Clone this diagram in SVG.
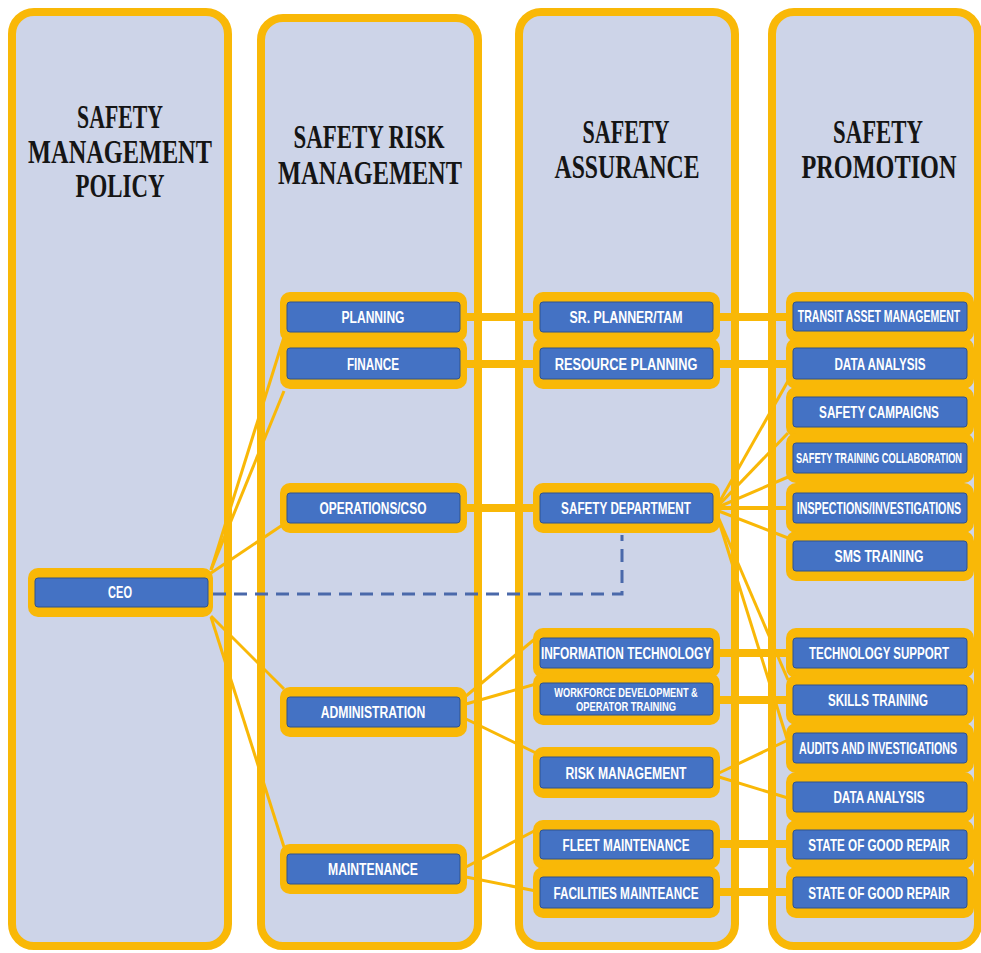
<svg xmlns="http://www.w3.org/2000/svg" width="981" height="953" viewBox="0 0 981 953">
<style>
.col{fill:#CDD4E8;stroke:#F9B807;stroke-width:8}
.hd{font-family:"Liberation Serif","Times New Roman",serif;font-weight:bold;font-size:34px;fill:#151515;text-anchor:middle}
.outer{fill:#F9B807}
.blue{fill:#4472C4;stroke:#2F528F;stroke-width:1}
.lb{font-family:"Liberation Sans",Arial,sans-serif;font-weight:bold;font-size:17px;fill:#FFFFFF;text-anchor:middle}
.s16{font-size:16px}
.s14{font-size:14px}
.s13{font-size:13px}
.thick{stroke:#F9B807;stroke-width:8;fill:none}
.thin{stroke:#F9B807;stroke-width:3;fill:none}
.mid{stroke:#F9B807;stroke-width:4;fill:none}
.dash{stroke:#4A69AA;stroke-width:3;fill:none;stroke-dasharray:13 8}
</style>
<rect width="981" height="953" fill="#FFFFFF"/>
<g id="columns">
<g id="col-policy"><rect class="col" x="12" y="12" width="216" height="934" rx="22"/>
<text class="hd" transform="translate(120,128) scale(0.64,1)">SAFETY</text>
<text class="hd" transform="translate(120,163) scale(0.716,1)">MANAGEMENT</text>
<text class="hd" transform="translate(120,197) scale(0.673,1)">POLICY</text></g>
<g id="col-risk"><rect class="col" x="261" y="18" width="217" height="928" rx="22"/>
<text class="hd" transform="translate(369,148) scale(0.673,1)">SAFETY RISK</text>
<text class="hd" transform="translate(370,184) scale(0.716,1)">MANAGEMENT</text></g>
<g id="col-assurance"><rect class="col" x="519" y="12" width="216" height="934" rx="22"/>
<text class="hd" transform="translate(626,143) scale(0.65,1)">SAFETY</text>
<text class="hd" transform="translate(627,178) scale(0.698,1)">ASSURANCE</text></g>
<g id="col-promotion"><rect class="col" x="772" y="12" width="206" height="934" rx="22"/>
<text class="hd" transform="translate(878,143) scale(0.67,1)">SAFETY</text>
<text class="hd" transform="translate(879,178) scale(0.714,1)">PROMOTION</text></g>
</g>
<g id="connectors">
<line class="thick" x1="460" y1="317" x2="545" y2="317"/>
<line class="thick" x1="460" y1="364" x2="545" y2="364"/>
<line class="thick" x1="460" y1="508" x2="545" y2="508"/>
<line class="thick" x1="710" y1="317" x2="795" y2="317"/>
<line class="thick" x1="710" y1="364" x2="795" y2="364"/>
<line class="thin" x1="211" y1="570" x2="284" y2="337"/>
<line class="thin" x1="211" y1="570" x2="284" y2="391"/>
<line class="thin" x1="211" y1="573" x2="284" y2="524"/>
<line class="thin" x1="211" y1="616" x2="284" y2="689"/>
<line class="thin" x1="211" y1="617" x2="284" y2="847"/>
<line class="thin" x1="466" y1="696" x2="536" y2="638"/>
<line class="thin" x1="466" y1="704" x2="536" y2="684"/>
<line class="thin" x1="466" y1="719" x2="536" y2="753"/>
<line class="thin" x1="466" y1="867" x2="536" y2="830"/>
<line class="thin" x1="466" y1="877" x2="536" y2="891"/>
<line class="thick" x1="710" y1="653" x2="795" y2="653"/>
<line class="thick" x1="710" y1="700" x2="795" y2="700"/>
<line class="thick" x1="710" y1="844" x2="795" y2="844"/>
<line class="thick" x1="710" y1="892" x2="795" y2="892"/>
<line class="thin" x1="719" y1="773" x2="788" y2="740"/>
<line class="thin" x1="719" y1="777" x2="788" y2="798"/>
<line class="thin" x1="716" y1="508" x2="788" y2="381"/>
<line class="thin" x1="716" y1="508" x2="788" y2="433"/>
<line class="thin" x1="716" y1="508" x2="788" y2="477"/>
<line class="mid" x1="716" y1="508" x2="790" y2="508"/>
<line class="thin" x1="716" y1="510" x2="788" y2="538"/>
<line class="thin" x1="716" y1="512" x2="788" y2="680"/>
<line class="thin" x1="716" y1="512" x2="788" y2="742"/>
<polyline class="dash" points="213,594 622,594 622,535"/>
</g>
<g id="n-planning"><rect class="outer" x="280" y="292" width="187" height="50" rx="10"/><rect class="blue" x="287" y="302" width="173" height="30" rx="3"/><text class="lb" transform="translate(373,323) scale(0.71,1)">PLANNING</text></g>
<g id="n-finance"><rect class="outer" x="280" y="338" width="187" height="51" rx="10"/><rect class="blue" x="287" y="348" width="173" height="31" rx="3"/><text class="lb" transform="translate(373,369.5) scale(0.69,1)">FINANCE</text></g>
<g id="n-operations"><rect class="outer" x="280" y="483" width="187" height="50" rx="10"/><rect class="blue" x="287" y="493" width="173" height="30" rx="3"/><text class="lb" transform="translate(373,514) scale(0.70,1)">OPERATIONS/CSO</text></g>
<g id="n-administration"><rect class="outer" x="280" y="687" width="187" height="50" rx="10"/><rect class="blue" x="287" y="697" width="173" height="30" rx="3"/><text class="lb" transform="translate(373,718) scale(0.717,1)">ADMINISTRATION</text></g>
<g id="n-maintenance"><rect class="outer" x="280" y="844" width="187" height="50" rx="10"/><rect class="blue" x="287" y="854" width="173" height="30" rx="3"/><text class="lb" transform="translate(373,875) scale(0.717,1)">MAINTENANCE</text></g>
<g id="n-ceo"><rect class="outer" x="28" y="568" width="185" height="49" rx="10"/><rect class="blue" x="35" y="578" width="173" height="29" rx="3"/><text class="lb s16" transform="translate(120,598) scale(0.69,1)">CEO</text></g>
<g id="n-srplanner"><rect class="outer" x="533" y="292" width="187" height="50" rx="10"/><rect class="blue" x="540" y="302" width="173" height="30" rx="3"/><text class="lb" transform="translate(626,323) scale(0.727,1)">SR. PLANNER/TAM</text></g>
<g id="n-resource"><rect class="outer" x="533" y="338" width="187" height="51" rx="10"/><rect class="blue" x="540" y="348" width="173" height="31" rx="3"/><text class="lb" transform="translate(626,369.5) scale(0.752,1)">RESOURCE PLANNING</text></g>
<g id="n-safetydept"><rect class="outer" x="533" y="483" width="187" height="50" rx="10"/><rect class="blue" x="540" y="493" width="173" height="30" rx="3"/><text class="lb" transform="translate(626,514) scale(0.69,1)">SAFETY DEPARTMENT</text></g>
<g id="n-it"><rect class="outer" x="533" y="628" width="187" height="50" rx="10"/><rect class="blue" x="540" y="638" width="173" height="30" rx="3"/><text class="lb" transform="translate(626,659) scale(0.70,1)">INFORMATION TECHNOLOGY</text></g>
<g id="n-workforce"><rect class="outer" x="533" y="673" width="187" height="52" rx="10"/><rect class="blue" x="540" y="683" width="173" height="32" rx="3"/><text class="lb s13" transform="translate(626,697) scale(0.71,1)">WORKFORCE DEVELOPMENT &amp;</text><text class="lb s13" transform="translate(626,711) scale(0.72,1)">OPERATOR TRAINING</text></g>
<g id="n-riskmgmt"><rect class="outer" x="533" y="747" width="187" height="51" rx="10"/><rect class="blue" x="540" y="757" width="173" height="31" rx="3"/><text class="lb" transform="translate(626,778.5) scale(0.716,1)">RISK MANAGEMENT</text></g>
<g id="n-fleet"><rect class="outer" x="533" y="820" width="187" height="49" rx="10"/><rect class="blue" x="540" y="830" width="173" height="29" rx="3"/><text class="lb" transform="translate(626,850.5) scale(0.69,1)">FLEET MAINTENANCE</text></g>
<g id="n-facilities"><rect class="outer" x="533" y="867" width="187" height="51" rx="10"/><rect class="blue" x="540" y="877" width="173" height="31" rx="3"/><text class="lb" transform="translate(626,898.5) scale(0.693,1)">FACILITIES MAINTEANCE</text></g>
<g id="n-transit"><rect class="outer" x="786" y="292" width="188" height="50" rx="10"/><rect class="blue" x="793" y="302" width="174" height="29" rx="3"/><text class="lb s16" transform="translate(879,322) scale(0.657,1)">TRANSIT ASSET MANAGEMENT</text></g>
<g id="n-data1"><rect class="outer" x="786" y="338" width="188" height="51" rx="10"/><rect class="blue" x="793" y="348" width="174" height="31" rx="3"/><text class="lb" transform="translate(880,369.5) scale(0.689,1)">DATA ANALYSIS</text></g>
<g id="n-campaigns"><rect class="outer" x="786" y="387" width="188" height="50" rx="10"/><rect class="blue" x="793" y="397" width="174" height="30" rx="3"/><text class="lb" transform="translate(879,418) scale(0.689,1)">SAFETY CAMPAIGNS</text></g>
<g id="n-collab"><rect class="outer" x="786" y="433" width="188" height="50" rx="10"/><rect class="blue" x="793" y="443" width="174" height="30" rx="3"/><text class="lb s14" transform="translate(879,463) scale(0.659,1)">SAFETY TRAINING COLLABORATION</text></g>
<g id="n-inspections"><rect class="outer" x="786" y="483" width="188" height="50" rx="10"/><rect class="blue" x="793" y="493" width="174" height="30" rx="3"/><text class="lb s16" transform="translate(879,513.5) scale(0.667,1)">INSPECTIONS/INVESTIGATIONS</text></g>
<g id="n-sms"><rect class="outer" x="786" y="531" width="188" height="50" rx="10"/><rect class="blue" x="793" y="541" width="174" height="30" rx="3"/><text class="lb" transform="translate(879,562) scale(0.72,1)">SMS TRAINING</text></g>
<g id="n-techsupport"><rect class="outer" x="786" y="628" width="188" height="50" rx="10"/><rect class="blue" x="793" y="638" width="174" height="30" rx="3"/><text class="lb" transform="translate(879,659) scale(0.68,1)">TECHNOLOGY SUPPORT</text></g>
<g id="n-skills"><rect class="outer" x="786" y="675" width="188" height="50" rx="10"/><rect class="blue" x="793" y="685" width="174" height="30" rx="3"/><text class="lb" transform="translate(878,706) scale(0.68,1)">SKILLS TRAINING</text></g>
<g id="n-audits"><rect class="outer" x="786" y="723" width="188" height="50" rx="10"/><rect class="blue" x="793" y="733" width="174" height="30" rx="3"/><text class="lb s16" transform="translate(878,753.5) scale(0.669,1)">AUDITS AND INVESTIGATIONS</text></g>
<g id="n-data2"><rect class="outer" x="786" y="772" width="188" height="50" rx="10"/><rect class="blue" x="793" y="782" width="174" height="30" rx="3"/><text class="lb" transform="translate(879,803) scale(0.689,1)">DATA ANALYSIS</text></g>
<g id="n-sogr1"><rect class="outer" x="786" y="820" width="188" height="49" rx="10"/><rect class="blue" x="793" y="830" width="174" height="29" rx="3"/><text class="lb" transform="translate(879,850.5) scale(0.687,1)">STATE OF GOOD REPAIR</text></g>
<g id="n-sogr2"><rect class="outer" x="786" y="867" width="188" height="51" rx="10"/><rect class="blue" x="793" y="877" width="174" height="31" rx="3"/><text class="lb" transform="translate(879,898.5) scale(0.687,1)">STATE OF GOOD REPAIR</text></g>
</svg>
